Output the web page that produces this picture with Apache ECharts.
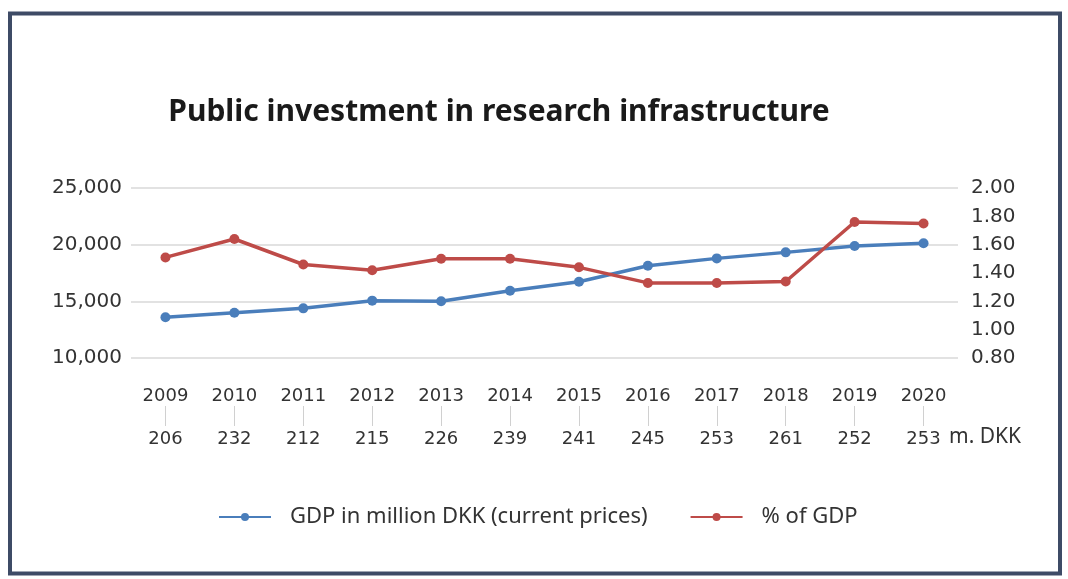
<!DOCTYPE html>
<html><head><meta charset="utf-8">
<script src="https://cdn.jsdelivr.net/npm/echarts@6/dist/echarts.min.js"></script>
<style>html,body{margin:0;padding:0;background:#fff}#c{width:1068px;height:579px}</style>
</head><body><div id="c"></div>
<script>
const years = ['2009','2010','2011','2012','2013','2014','2015','2016','2017','2018','2019','2020'];
const investment = ['206','232','212','215','226','239','241','245','253','261','252','253'];
const gdp = [13600, 14000, 14380, 15060, 15000, 15940, 16730, 18140, 18790, 19320, 19880, 20120];
const pctGdp = [1.51, 1.64, 1.46, 1.42, 1.50, 1.50, 1.44, 1.33, 1.33, 1.34, 1.76, 1.75];
const leftTicks = [10000, 15000, 20000, 25000];
const rightTicks = [0.8, 1.0, 1.2, 1.4, 1.6, 1.8, 2.0];
const titleText = 'Public investment in research infrastructure';
const seriesNames = ['GDP in million DKK (current prices)', '% of GDP'];
const unitText = 'm. DKK';

const chart = echarts.init(document.getElementById('c'));
const labelFont = 'DejaVu Sans';
chart.setOption({
  animation: false,
  backgroundColor: '#ffffff',
  title: {
    text: titleText, left: 494, top: 92, textAlign: 'center',
    textStyle: { fontFamily: 'Noto Sans', fontSize: 30, fontWeight: 'bold', color: '#1a1a1a' }
  },
  graphic: [
    { type: 'rect', shape: { x: 10, y: 13.5, width: 1050, height: 560 },
      style: { fill: 'none', stroke: '#3e4b66', lineWidth: 4 }, z: 100 },
    { type: 'text', left: 949, top: 427,
      style: { text: unitText, font: '21px "Noto Sans"', fill: '#333' } }
  ],
  legend: {
    bottom: 46, left: 213, itemWidth: 52, itemHeight: 10, itemGap: 42,
    textStyle: { fontFamily: 'Noto Sans', fontSize: 22, color: '#333', padding: [0, 0, 0, 14] },
    data: seriesNames
  },
  grid: { left: 131, right: 110, top: 188, bottom: 221, containLabel: false },
  xAxis: [
    { type: 'category', data: years, boundaryGap: true, position: 'bottom',
      axisLine: { show: false }, axisTick: { show: false },
      axisLabel: { margin: 29, fontFamily: labelFont, fontSize: 18, color: '#333' } },
    { type: 'category', data: investment, boundaryGap: true, position: 'bottom', offset: 48,
      axisLine: { show: false },
      axisTick: { show: true, alignWithLabel: true, length: 20, lineStyle: { color: '#d0d0d0' } },
      axisLabel: { margin: 24, fontFamily: labelFont, fontSize: 18, color: '#333' } }
  ],
  yAxis: [
    { type: 'value', min: leftTicks[0], max: leftTicks[leftTicks.length-1], interval: 5000,
      axisLine: { show: false }, axisTick: { show: false },
      splitLine: { lineStyle: { color: '#d9d9d9', width: 1.5 } },
      axisLabel: { margin: 9, fontFamily: labelFont, fontSize: 20, color: '#333',
        formatter: v => v.toLocaleString('en-US') } },
    { type: 'value', min: rightTicks[0], max: rightTicks[rightTicks.length-1], interval: 0.2,
      axisLine: { show: false }, axisTick: { show: false }, splitLine: { show: false },
      axisLabel: { margin: 13, fontFamily: labelFont, fontSize: 20, color: '#333',
        formatter: v => v.toFixed(2) } }
  ],
  series: [
    { name: seriesNames[0], type: 'line', data: gdp, xAxisIndex: 0, yAxisIndex: 0,
      symbol: 'circle', symbolSize: 10, color: '#4a7ebb',
      lineStyle: { width: 3.5, color: '#4a7ebb' }, itemStyle: { color: '#4a7ebb' } },
    { name: seriesNames[1], type: 'line', data: pctGdp, xAxisIndex: 0, yAxisIndex: 1,
      symbol: 'circle', symbolSize: 10, color: '#be4b48',
      lineStyle: { width: 3.5, color: '#be4b48' }, itemStyle: { color: '#be4b48' } }
  ]
});
</script></body></html>
